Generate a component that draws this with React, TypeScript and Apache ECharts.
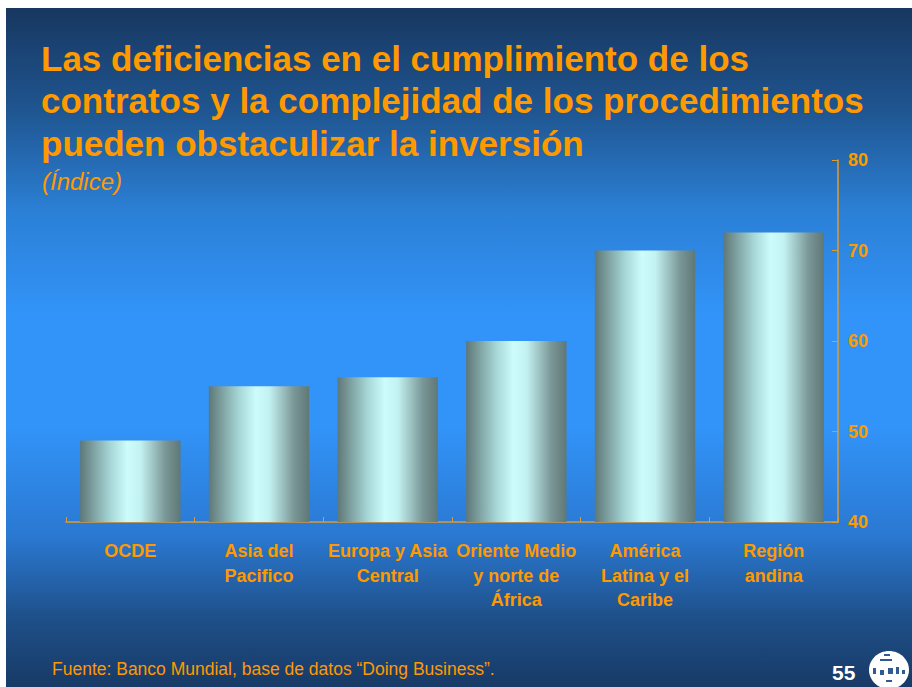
import React, { useEffect, useRef } from "react";
import * as echarts from "echarts";

const categories = [
  "OCDE",
  "Asia del\nPacifico",
  "Europa y Asia\nCentral",
  "Oriente Medio\ny norte de\nÁfrica",
  "América\nLatina y el\nCaribe",
  "Región\nandina",
];
const values = [49, 55, 56, 60, 70, 72];
const yTicks = { min: 40, max: 80, interval: 10 };

const titleLines = [
  "Las deficiencias en el cumplimiento de los",
  "contratos y la complejidad de los procedimientos",
  "pueden obstaculizar la inversión",
];
const subtitle = "(Índice)";
const sourceNote = "Fuente: Banco Mundial, base de datos “Doing Business”.";
const pageNumber = "55";

const ORANGE = "#ff9900";
const AXIS = "#e39a2c";
const FONT = "'Liberation Sans', Arial, sans-serif";

export default function App() {
  const ref = useRef<HTMLDivElement>(null);
  useEffect(() => {
    if (!ref.current) return;
    const chart = echarts.init(ref.current, undefined, { renderer: "svg" });
    const barGrad = new echarts.graphic.LinearGradient(0, 0, 1, 0, [
      { offset: 0, color: "#5f7777" },
      { offset: 0.3, color: "#a6d6d6" },
      { offset: 0.47, color: "#cdfcfc" },
      { offset: 0.6, color: "#c4f2f2" },
      { offset: 0.85, color: "#7a9696" },
      { offset: 1, color: "#5f7777" },
    ]);
    const bgGrad = new echarts.graphic.LinearGradient(0, 0, 0, 1, [
      { offset: 0, color: "#173760" },
      { offset: 0.15, color: "#1f5590" },
      { offset: 0.3, color: "#2b80d6" },
      { offset: 0.45, color: "#3293f8" },
      { offset: 0.62, color: "#3293f8" },
      { offset: 0.78, color: "#2a78d0" },
      { offset: 0.9, color: "#1e4f88" },
      { offset: 1, color: "#183a66" },
    ]);
    const logoMarks = [
      [880, 659, 12, 2],
      [884, 654, 6, 2],
      [873, 668, 3, 6],
      [880, 670, 4, 5],
      [888, 668, 5, 6],
      [896, 667, 3, 7],
      [902, 670, 3, 4],
      [886, 680, 6, 2],
    ];
    chart.setOption({
      animation: false,
      backgroundColor: "#ffffff",
      graphic: [
        {
          type: "rect",
          z: -10,
          silent: true,
          shape: { x: 6, y: 8, width: 906, height: 679 },
          style: { fill: bgGrad },
        },
        ...titleLines.map((t, i) => ({
          type: "text",
          x: 41,
          y: 58 + i * 42.5,
          style: {
            text: t,
            fill: ORANGE,
            font: `bold 35px ${FONT}`,
            textVerticalAlign: "middle",
          },
        })),
        {
          type: "text",
          x: 42,
          y: 181,
          style: {
            text: subtitle,
            fill: ORANGE,
            font: `italic 24px ${FONT}`,
            textVerticalAlign: "middle",
          },
        },
        {
          type: "text",
          x: 52,
          y: 669,
          style: {
            text: sourceNote,
            fill: ORANGE,
            font: `17.5px ${FONT}`,
            textVerticalAlign: "middle",
          },
        },
        {
          type: "text",
          x: 832,
          y: 672,
          style: {
            text: pageNumber,
            fill: "#ffffff",
            font: `bold 21px ${FONT}`,
            textVerticalAlign: "middle",
          },
        },
        {
          type: "ellipse",
          shape: { cx: 889, cy: 670, rx: 20, ry: 19 },
          style: { fill: "#ffffff" },
        },
        ...logoMarks.map((m) => ({
          type: "rect",
          shape: { x: m[0], y: m[1], width: m[2], height: m[3] },
          style: { fill: "#2f5a92" },
        })),
      ],
      grid: { left: 66, right: 74, top: 160, bottom: 165, containLabel: false },
      xAxis: {
        type: "category",
        data: categories,
        axisLine: { show: true, lineStyle: { color: AXIS, width: 1.5 } },
        axisTick: { show: true, inside: true, length: 5, lineStyle: { color: AXIS } },
        axisLabel: {
          interval: 0,
          margin: 17,
          color: ORANGE,
          fontSize: 18,
          fontWeight: "bold",
          lineHeight: 24.5,
          fontFamily: FONT,
        },
      },
      yAxis: {
        type: "value",
        position: "right",
        min: yTicks.min,
        max: yTicks.max,
        interval: yTicks.interval,
        axisLine: { show: true, lineStyle: { color: AXIS, width: 1.5 } },
        axisTick: { show: true, inside: true, length: 6, lineStyle: { color: AXIS } },
        splitLine: { show: false },
        axisLabel: {
          margin: 10,
          color: ORANGE,
          fontSize: 18,
          fontWeight: "bold",
          fontFamily: FONT,
        },
      },
      series: [
        {
          type: "bar",
          data: values,
          barWidth: "78%",
          itemStyle: { color: barGrad },
        },
      ],
    });
    return () => chart.dispose();
  }, []);
  return (
    <div
      ref={ref}
      style={{ position: "fixed", left: 0, top: 0, width: 912, height: 687 }}
    />
  );
}
